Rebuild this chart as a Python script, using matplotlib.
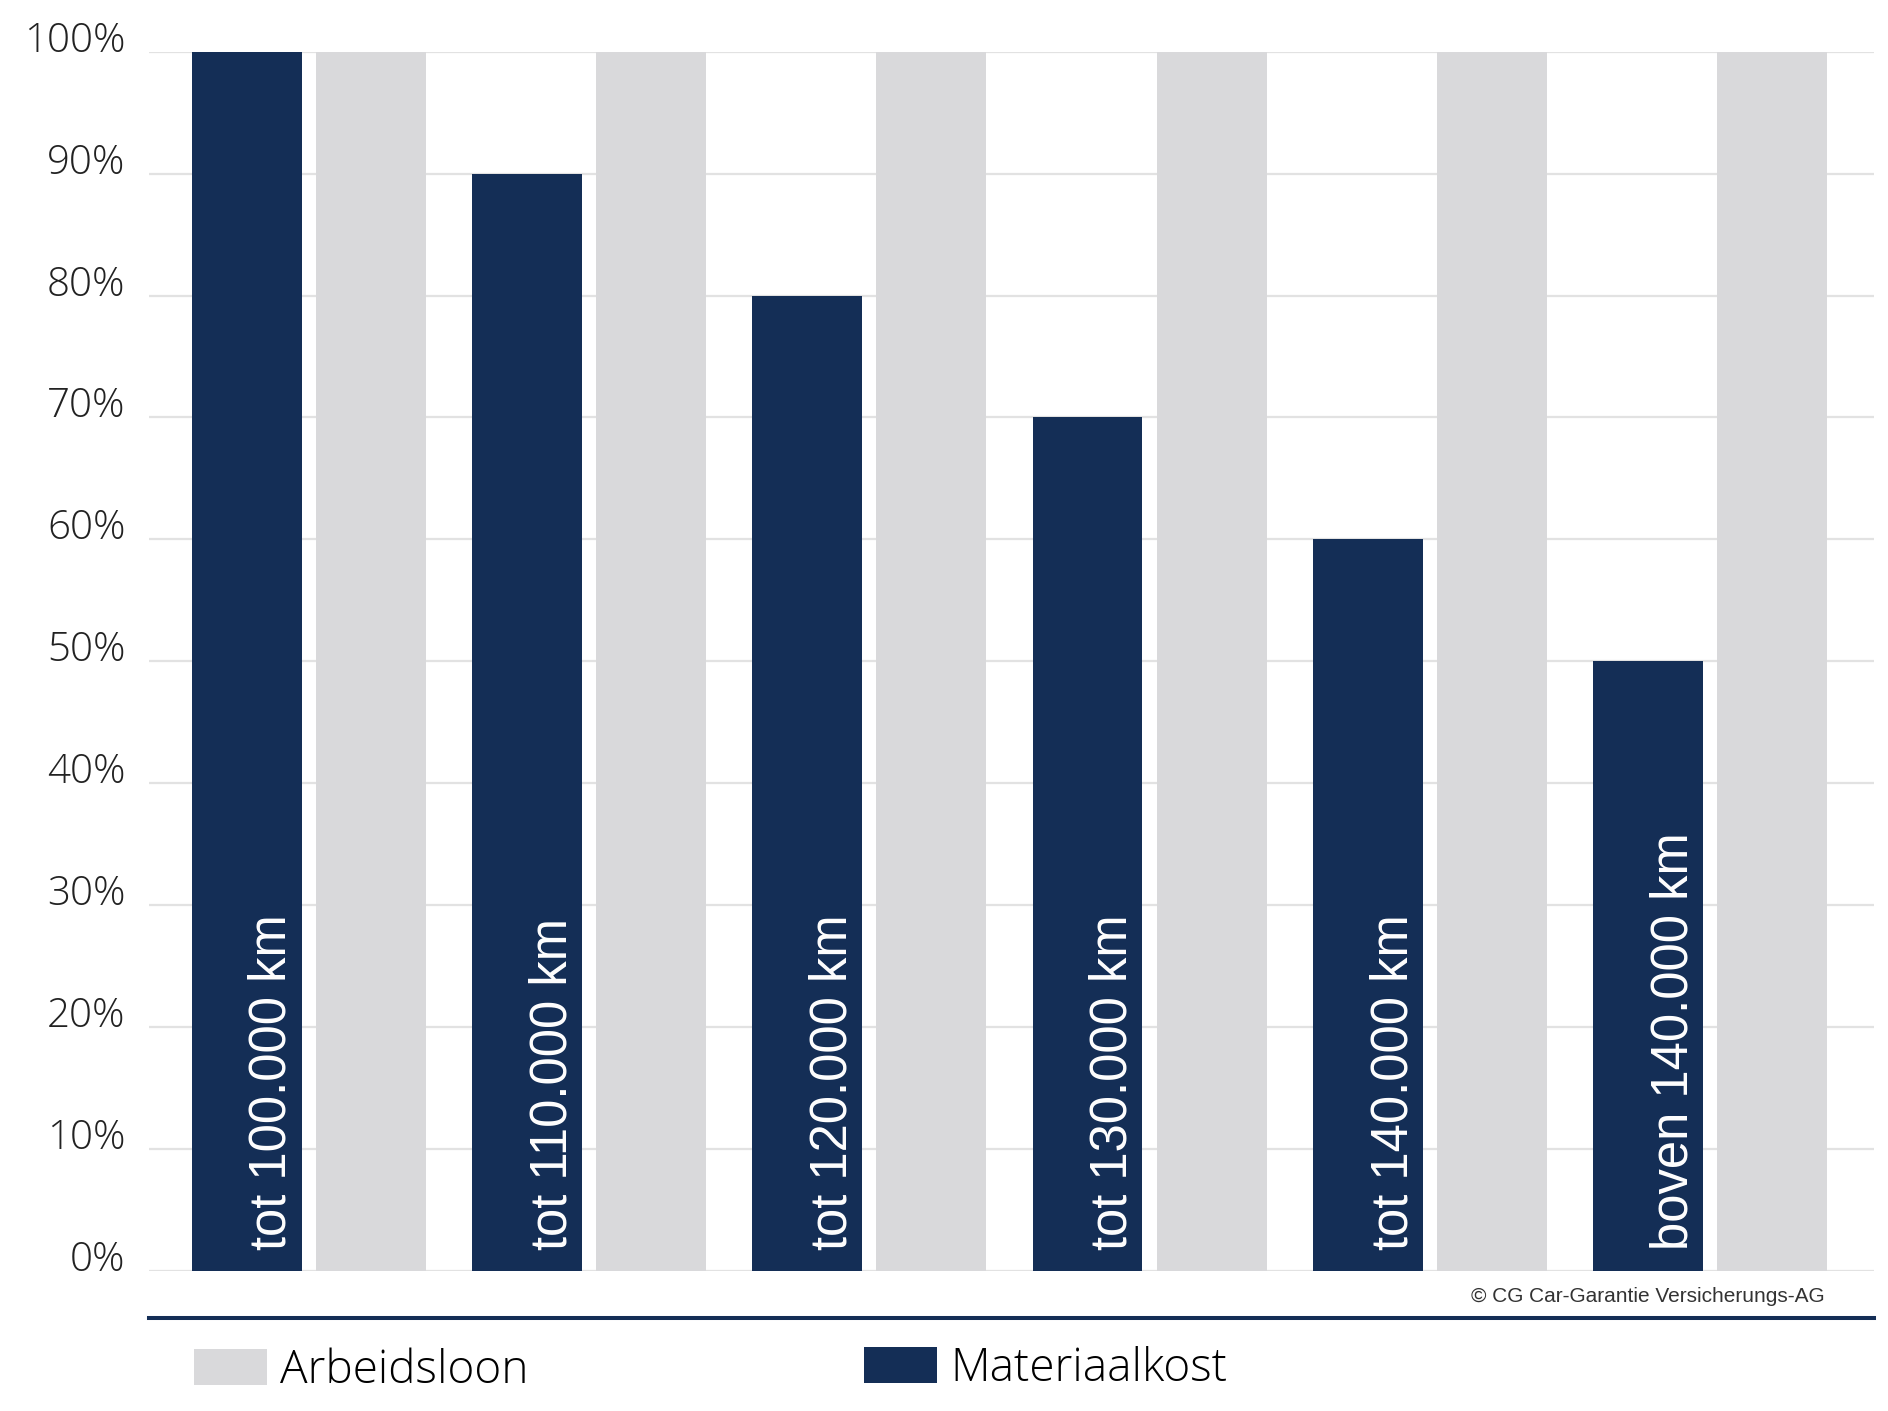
import matplotlib
matplotlib.use("Agg")
import matplotlib.pyplot as plt
from matplotlib.lines import Line2D
import numpy as np

categories = ["tot 100.000 km", "tot 110.000 km", "tot 120.000 km",
              "tot 130.000 km", "tot 140.000 km", "boven 140.000 km"]
materiaalkost = [100, 90, 80, 70, 60, 50]
arbeidsloon = [100, 100, 100, 100, 100, 100]
yticks = [0, 10, 20, 30, 40, 50, 60, 70, 80, 90, 100]
ytick_labels = [f"{v}%" for v in yticks]

NAVY = "#142e56"
GRAY = "#d9d9db"

fig = plt.figure(figsize=(18.88, 14.11), dpi=100)
ax = fig.add_axes([149/1888, 1 - 1271/1411, (1874-149)/1888, (1271-51.7)/1411])

x = np.arange(len(categories))
w = 0.392
d = 0.443
ax.bar(x, materiaalkost, width=w, color=NAVY, zorder=3, label="Materiaalkost")
ax.bar(x + d, arbeidsloon, width=w, color=GRAY, zorder=3, label="Arbeidsloon")

ax.set_xlim(-0.3486, 5.806)
ax.set_ylim(0, 100)
ax.set_yticks(yticks)
ax.set_yticklabels(ytick_labels, family=["Open Sans", "DejaVu Sans"],
                   fontweight="light", fontsize=29, color="#222222",
                   va="baseline")
ax.tick_params(axis="y", length=0, pad=17)
ax.set_xticks([])
for s in ax.spines.values():
    s.set_visible(False)
ax.yaxis.grid(True, color="#e2e2e2", linewidth=1.6, zorder=0)
ax.set_axisbelow(True)

for xi, lab in zip(x, categories):
    ax.text(xi + 0.140, 1.72, lab, rotation=90, rotation_mode="anchor",
            ha="left", va="baseline", color="white", fontsize=36.5,
            family=["Liberation Sans", "DejaVu Sans"], zorder=4)

# copyright
fig.text(1825/1888, 1 - 1301.7/1411, "\u00a9 CG Car-Garantie Versicherungs-AG",
         ha="right", va="baseline", fontsize=15, color="#333333",
         family=["Liberation Sans Narrow", "Liberation Sans", "DejaVu Sans"])

# navy separator line
fig.add_artist(Line2D([149/1888, 1874/1888], [1 - 1318/1411, 1 - 1318/1411],
                      color=NAVY, linewidth=2.9, transform=fig.transFigure))

handles, labels = ax.get_legend_handles_labels()
hmap = dict(zip(labels, handles))
leg_kw = dict(loc="center left", frameon=False, borderpad=0, borderaxespad=0,
              handlelength=1.6, handleheight=0.82, handletextpad=0.28,
              prop={"family": ["Open Sans", "DejaVu Sans"], "weight": "light", "size": 33})
leg1 = fig.legend([hmap["Arbeidsloon"]], ["Arbeidsloon"],
                  bbox_to_anchor=(194/1888, 1 - 1371/1411), **leg_kw)
leg2 = fig.legend([hmap["Materiaalkost"]], ["Materiaalkost"],
                  bbox_to_anchor=(864/1888, 1 - 1369/1411), **leg_kw)

fig.savefig("out.png", dpi=100)
